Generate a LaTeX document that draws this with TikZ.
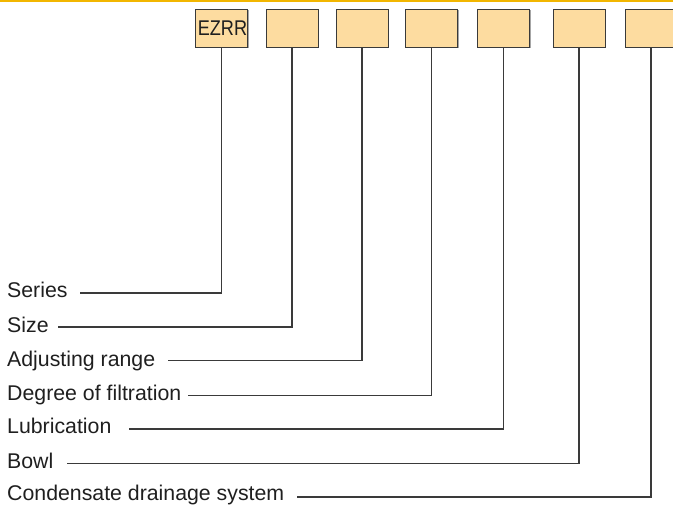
\documentclass[tikz,border=0pt]{standalone}
\usepackage{fontspec}
\setmainfont{Liberation Sans}
\usetikzlibrary{shadows}
\definecolor{boxfill}{HTML}{FDDCA0}
\definecolor{gold}{HTML}{F2B600}
\definecolor{ln}{HTML}{3A3A3A}
\begin{document}
\begin{tikzpicture}[x=1pt,y=-1pt,
  codebox/.style={draw=ln, line width=0.9pt, fill=boxfill, minimum width=52pt, minimum height=38pt, inner sep=0pt,
    drop shadow={shadow xshift=1.2pt, shadow yshift=-1.2pt, fill=gray!70, opacity=1}},
  lbl/.style={anchor=base west, inner sep=0pt, font=\fontsize{21.3}{24}\selectfont, text=black!88},
  conn/.style={draw=ln, line width=1.1pt}]
\clip (0,0) rectangle (673,506);
\fill[gold] (0,0) rectangle (673,2);
% boxes
\node[codebox] (b1) at (221.5,28) {\fontsize{21.3}{24}\selectfont\color{black!88}\hspace*{2pt}\scalebox{0.85}[1]{EZRR}};
\node[codebox] (b2) at (292,28) {};
\node[codebox] (b3) at (362,28) {};
\node[codebox] (b4) at (431.5,28) {};
\node[codebox] (b5) at (503.5,28) {};
\node[codebox] (b6) at (579,28) {};
\node[codebox] (b7) at (651,28) {};
% labels
\node[lbl] (l1) at (7,297) {Series};
\node[lbl] (l2) at (7,332) {Size};
\node[lbl] (l3) at (7,366) {Adjusting range};
\node[lbl] (l4) at (7,400) {Degree of filtration};
\node[lbl] (l5) at (7,433) {Lubrication};
\node[lbl] (l6) at (7,468) {Bowl};
\node[lbl] (l7) at (7,500) {Condensate drainage system};
% connector start points
\coordinate (s1) at (80,293);
\coordinate (s2) at (58,327);
\coordinate (s3) at (168,360.5);
\coordinate (s4) at (188,395.5);
\coordinate (s5) at (129,429);
\coordinate (s6) at (67,463.5);
\coordinate (s7) at (297,497);
\foreach \i in {1,...,7}{
  \draw[conn] (s\i) -| (b\i.south);
}
\end{tikzpicture}
\end{document}
